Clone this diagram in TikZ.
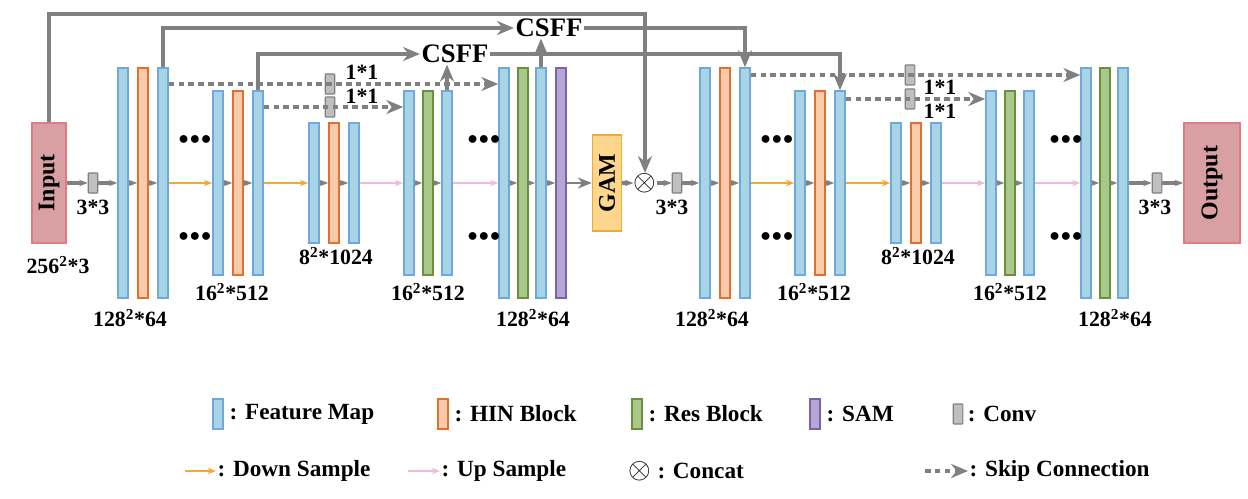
\documentclass[tikz,border=0pt]{standalone}
\usepackage{fontspec}
\setmainfont{Liberation Serif}
\usetikzlibrary{positioning,arrows.meta}
\definecolor{fmfill}{HTML}{A8D5E5}
\definecolor{fmdraw}{HTML}{6FA8DC}
\definecolor{hinfill}{HTML}{F8CBAD}
\definecolor{hindraw}{HTML}{E0702B}
\definecolor{resfill}{HTML}{A9C98A}
\definecolor{resdraw}{HTML}{6A8F3F}
\definecolor{samfill}{HTML}{B4A7D6}
\definecolor{samdraw}{HTML}{7B62A8}
\definecolor{lgray}{HTML}{808080}
\definecolor{down}{HTML}{F0AA30}
\definecolor{up}{HTML}{F0B8DC}
\tikzset{
  blk/.style={draw, line width=1.1pt, minimum width=0.25cm, inner sep=0pt},
  fm/.style={blk, fill=fmfill, draw=fmdraw},
  hin/.style={blk, fill=hinfill, draw=hindraw},
  res/.style={blk, fill=resfill, draw=resdraw},
  sam/.style={blk, fill=samfill, draw=samdraw},
  conv/.style={draw=lgray, fill=lgray!50, line width=0.8pt, minimum width=0.24cm, minimum height=0.5cm, inner sep=0pt, rounded corners=0.5pt},
  lbl/.style={font=\bfseries\fontsize{15.5}{18}\selectfont, inner sep=1pt},
  leg/.style={font=\bfseries\fontsize{16.5}{19}\selectfont, inner sep=1pt},
  big/.style={font=\bfseries\fontsize{19}{22}\selectfont, inner sep=1pt},
  main/.style={-{Stealth[length=6pt]}, lgray, line width=2.4pt},
  dn/.style={-{Stealth[length=6pt]}, down, line width=2pt},
  upc/.style={-{Stealth[length=6pt]}, up, line width=2pt},
  skip/.style={-{Stealth[length=12pt,width=10pt]}, lgray, line width=2.2pt, dash pattern=on 4pt off 3pt},
  csff/.style={-{Stealth[length=12pt,width=10pt]}, lgray, line width=2.2pt},
  dots/.style={font=\bfseries\Large, inner sep=0pt},
  cat/.style={inner sep=0pt, font=\fontsize{22}{22}\selectfont}
}
\begin{document}
\begin{tikzpicture}[x=0.025cm, y=-0.025cm]
\useasboundingbox (0,0) rectangle (1248,499);

% Input / output
\node[draw={rgb,255:red,224;green,124;blue,128}, fill={rgb,255:red,217;green,160;blue,163}, line width=1.2pt, minimum width=0.85cm, minimum height=3cm, inner sep=0pt] (inp) at (49,183) {\rotatebox{90}{\bfseries\fontsize{17}{19}\selectfont Input}};
\node[draw={rgb,255:red,224;green,124;blue,128}, fill={rgb,255:red,217;green,160;blue,163}, line width=1.2pt, minimum width=1.4cm, minimum height=3cm, inner sep=0pt] (out) at (1212,183) {\rotatebox{90}{\bfseries\fontsize{17}{19}\selectfont Output}};
\node[lbl] at (58,265) {256$^{\mathbf 2}$*3};

% Encoder / decoder bars
\foreach \p/\o in {e/0, d/582} {
  \node[fm, minimum height=5.75cm] (\p11) at (123+\o,183) {};
  \node[hin, minimum height=5.75cm] (\p12) at (143+\o,183) {};
  \node[fm, minimum height=5.75cm] (\p13) at (163+\o,183) {};
  \node[fm, minimum height=4.6cm] (\p21) at (218+\o,183) {};
  \node[hin, minimum height=4.6cm] (\p22) at (238+\o,183) {};
  \node[fm, minimum height=4.6cm] (\p23) at (258+\o,183) {};
  \node[fm, minimum height=3cm] (\p31) at (314+\o,183) {};
  \node[hin, minimum height=3cm] (\p32) at (334+\o,183) {};
  \node[fm, minimum height=3cm] (\p33) at (354+\o,183) {};
  \node[fm, minimum height=4.6cm] (\p41) at (409+\o,183) {};
  \node[res, minimum height=4.6cm] (\p42) at (428+\o,183) {};
  \node[fm, minimum height=4.6cm] (\p43) at (447+\o,183) {};
  \node[fm, minimum height=5.75cm] (\p51) at (504+\o,183) {};
  \node[res, minimum height=5.75cm] (\p52) at (523+\o,183) {};
  \node[fm, minimum height=5.75cm] (\p53) at (541+\o,183) {};
  \node[lbl] at (130+\o,318) {128$^{\mathbf 2}$*64};
  \node[lbl] at (232+\o,292) {16$^{\mathbf 2}$*512};
  \node[lbl] at (336+\o,256) {8$^{\mathbf 2}$*1024};
  \node[lbl] at (428+\o,292) {16$^{\mathbf 2}$*512};
  \node[lbl] at (533+\o,318) {128$^{\mathbf 2}$*64};
  \foreach \x in {195,484} {
    \node[dots] at (\x+\o,140) {$\bullet\!\bullet\!\bullet$};
    \node[dots] at (\x+\o,237) {$\bullet\!\bullet\!\bullet$};
  }
  \foreach \g in {1,2,3,4,5} {
    \draw[main] (\p\g1) -- (\p\g2);
    \draw[main] (\p\g2) -- (\p\g3);
  }
  \draw[dn] (\p13) -- (\p21);
  \draw[dn] (\p23) -- (\p31);
  \draw[upc] (\p33) -- (\p41);
  \draw[upc] (\p43) -- (\p51);
}
\node[sam, minimum height=5.75cm] (e54) at (561,183) {};
\draw[main] (e53) -- (e54);

% Middle
\node[draw={rgb,255:red,240;green,170;blue,48}, fill={rgb,255:red,252;green,214;blue,140}, line width=1.2pt, minimum width=0.72cm, minimum height=2.4cm, inner sep=0pt] (gam) at (607,183) {\rotatebox{90}{\bfseries\fontsize{17}{19}\selectfont GAM}};
\node[cat] (cat) at (645,183) {$\otimes$};
\node[conv] (c1) at (93,183) {};
\node[conv] (c2) at (677,183) {};
\node[conv] (c3) at (1157,183) {};
\node[lbl] at (93,207) {3*3};
\node[lbl] at (672,207) {3*3};
\node[lbl] at (1155,207) {3*3};
\draw[main] (inp) -- (c1);
\draw[main] (c1) -- (e11);
\draw[-{Stealth[length=10pt,width=8pt]}, lgray, line width=1.2pt] (e54) -- (gam);
\draw[main] (gam) -- (cat);
\draw[main] (cat) -- (c2);
\draw[main] (c2) -- (d11);
\draw[main] (d53) -- (c3);
\draw[main] (c3) -- (out);

% Skip connections
\node[conv] (k1) at (330,84) {};
\node[conv] (k2) at (330,107) {};
\node[conv] (k3) at (910,75) {};
\node[conv] (k4) at (910,99) {};
\node[lbl] at (362,72) {1*1};
\node[lbl] at (362,96) {1*1};
\node[lbl] at (940,87) {1*1};
\node[lbl] at (940,111) {1*1};
\draw[skip] (e13.east |- k1) -- (e51.west |- k1);
\draw[skip] (e23.east |- k2) -- (e41.west |- k2);
\draw[skip] (d13.east |- k3) -- (d51.west |- k3);
\draw[skip] (d23.east |- k4) -- (d41.west |- k4);

% CSFF
\node[big] (f1) at (549,28) {CSFF};
\node[big] (f2) at (455,54) {CSFF};
\coordinate (t1) at (645,14);
\draw[csff] (inp.north) |- (t1) -- (cat.north);
\draw[csff] (e13.north) |- (f1.west);
\draw[csff] (f1.east) -| (d13.north);
\draw[csff] (e53.north) -- (e53.north |- f1.south);
\draw[csff] (e23.north) |- (f2.west);
\draw[csff] (f2.east) -| (d23.north);
\draw[csff] (e43.north) -- (e43.north |- f2.south);

% Legend
\node[fm, minimum height=0.75cm] (l1) at (218,414) {};
\node[leg, right=3pt of l1] {: Feature Map};
\node[hin, minimum height=0.75cm] (l2) at (443,414) {};
\node[leg, right=3pt of l2] {: HIN Block};
\node[res, minimum height=0.75cm] (l3) at (637,414) {};
\node[leg, right=3pt of l3] {: Res Block};
\node[sam, minimum height=0.75cm] (l4) at (815,414) {};
\node[leg, right=3pt of l4] {: SAM};
\node[conv] (l5) at (958,414) {};
\node[leg, right=2pt of l5] {: Conv};
\coordinate (a1) at (185,471); \coordinate (a2) at (216,471);
\draw[dn] (a1) -- (a2);
\node[leg, right=0pt of a2] {: Down Sample};
\coordinate (b1) at (408,471); \coordinate (b2) at (440,471);
\draw[upc] (b1) -- (b2);
\node[leg, right=0pt of b2] {: Up Sample};
\node[cat] (l6) at (640,471) {$\otimes$};
\node[leg, right=3pt of l6] {: Concat};
\coordinate (s1) at (925,471); \coordinate (s2) at (968,471);
\draw[skip] (s1) -- (s2);
\node[leg, right=0pt of s2] {: Skip Connection};
\end{tikzpicture}
\end{document}
